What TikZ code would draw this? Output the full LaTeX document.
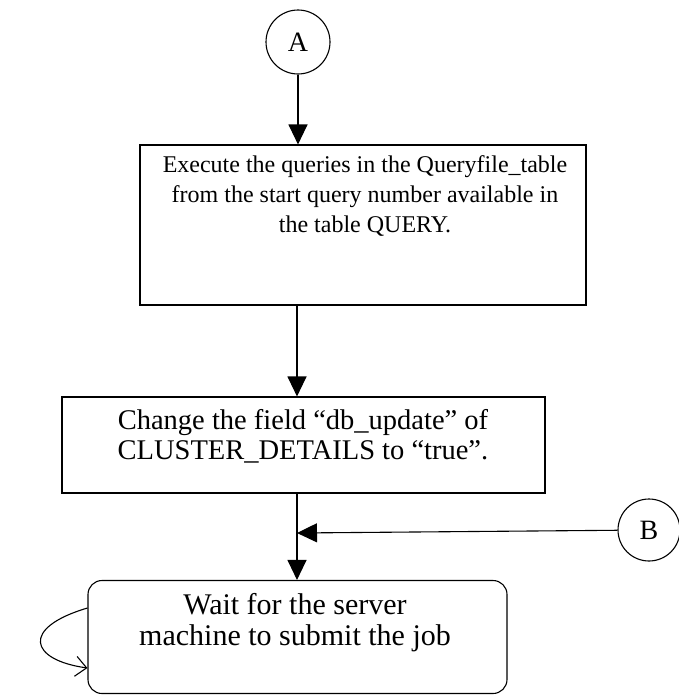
\documentclass[tikz,border=0pt]{standalone}
\usepackage{fontspec}
\setmainfont{Liberation Serif}
\usetikzlibrary{arrows.meta}

\begin{document}
\begin{tikzpicture}[x=1pt, y=-1pt, line width=1.1pt,
  conn/.style={draw, circle, minimum size=64pt, inner sep=0pt,
    font=\fontsize{28}{30}\selectfont},
  procbox/.style={draw, rectangle, inner sep=0pt},
  waitbox/.style={draw, rectangle, rounded corners=14pt, inner sep=0pt},
  lineA/.style={anchor=base, inner sep=0pt, font=\fontsize{24}{28}\selectfont},
  lineB/.style={anchor=base, inner sep=0pt, font=\fontsize{28.5}{34}\selectfont},
  lineC/.style={anchor=base, inner sep=0pt, font=\fontsize{30}{36}\selectfont},
  flow/.style={-{Triangle[length=20pt, width=19pt]}},
  loopback/.style={-{Straight Barb[length=11pt, width=20pt, line width=1.1pt]}}]

  \useasboundingbox (0,0) rectangle (679,696);

  % connectors
  \node[conn] (A) at (298,42) {A};
  \node[conn, minimum size=62pt] (B) at (649,530) {B};

  % process box: run the queries
  \node[procbox, minimum width=446pt, minimum height=160pt] (exec) at (363,225) {};
  \node[lineA] (exec1) at (365,172) {Execute the queries in the Queryfile\_table};
  \node[lineA] (exec2) at (365,202) {from the start query number available in};
  \node[lineA] (exec3) at (365,232) {the table QUERY.};

  % process box: update the cluster flag
  \node[procbox, minimum width=483pt, minimum height=96pt] (change) at (303.5,445) {};
  \node[lineB] (change1) at (303,429) {Change the field ``db\_update'' of};
  \node[lineB] (change2) at (303,459) {CLUSTER\_DETAILS to ``true''.};

  % waiting state
  \node[waitbox, minimum width=419pt, minimum height=113pt] (wait) at (297.5,637) {};
  \node[lineC] (wait1) at (295,614) {Wait for the server};
  \node[lineC] (wait2) at (295,645) {machine to submit the job};

  % junction where B joins the main flow
  \coordinate (join) at (297,533);

  % flow lines
  \draw[flow] (A) -- (A |- exec.north);
  \draw[flow] (exec.south -| join) -- (change.north -| join);
  \draw (change.south -| join) -- (join);
  \draw[flow] (B) -- (join);
  \draw[flow] (join) -- (wait.north -| join);

  % waiting loop on the left side
  \draw[loopback] (wait.west |- 0,608) .. controls (20,628) and (30,660) .. (wait.west |- 0,668);
\end{tikzpicture}
\end{document}
